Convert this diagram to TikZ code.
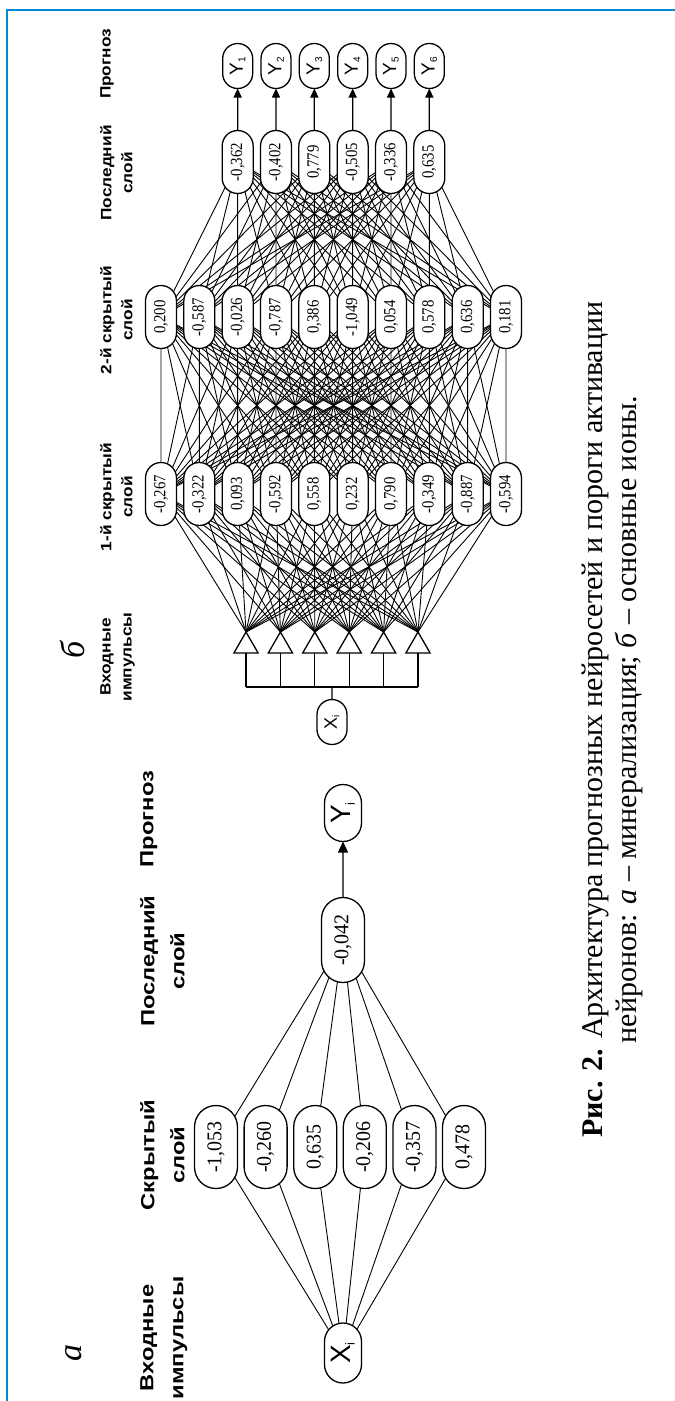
\documentclass[tikz,border=0pt]{standalone}
\usepackage{fontspec}
\setmainfont{Liberation Serif}
\newfontfamily\valA[FakeStretch=0.95]{Liberation Serif}
\newfontfamily\valB[FakeStretch=0.87]{Liberation Serif}
\newfontfamily\lblA[FakeStretch=1.25]{Liberation Sans Bold}
\newfontfamily\lblB[FakeStretch=1.15]{Liberation Sans Bold}
\newfontfamily\xyf{Liberation Sans}
\usetikzlibrary{shapes.misc,shapes.geometric,arrows.meta}
\definecolor{framec}{RGB}{0,140,210}
\pgfdeclarelayer{back}
\pgfdeclarelayer{lines}
\pgfsetlayers{back,lines,main}
\begin{document}
\begin{tikzpicture}[x=1pt,y=-1pt,
  conn/.style={line width=0.9pt},
  boxline/.style={line width=1.3pt},
  vA/.style={draw, boxline, fill=white, rounded rectangle, rotate=90, inner sep=0pt, outer sep=0pt,
     minimum width=83pt, minimum height=43pt, font=\valA\fontsize{21}{21}\selectfont},
  vB/.style={draw, boxline, fill=white, rounded rectangle, rotate=90, inner sep=0pt, outer sep=0pt,
     minimum width=63pt, minimum height=31pt, font=\valB\fontsize{17}{17}\selectfont},
  xyA/.style={draw, boxline, fill=white, rounded rectangle, rotate=90, inner sep=0pt, outer sep=0pt,
     minimum width=60pt, minimum height=37pt, font=\xyf\fontsize{28}{28}\selectfont},
  xyB/.style={draw, boxline, fill=white, rounded rectangle, rotate=90, inner sep=0pt, outer sep=0pt,
     minimum width=45pt, minimum height=30pt, font=\xyf\fontsize{19}{19}\selectfont},
  tri/.style={draw, boxline, fill=white, regular polygon, regular polygon sides=3, minimum size=28pt,
     inner sep=0pt, outer sep=0pt},
  lA/.style={rotate=90, anchor=north, align=center, inner sep=0pt, font=\lblA\fontsize{19}{30}\selectfont},
  lB/.style={rotate=90, anchor=north, align=center, inner sep=0pt, font=\lblB\fontsize{15}{21}\selectfont},
  arrA/.style={line width=1.3pt, -{Triangle[length=11pt,width=10pt]}},
  arrB/.style={line width=1.3pt, -{Triangle[length=9pt,width=8pt]}},
  partlbl/.style={rotate=90, inner sep=0pt, font=\itshape\fontsize{34}{34}\selectfont}
]
\begin{pgfonlayer}{back}
\fill[white] (0,0) rectangle (675,1401);
\end{pgfonlayer}
\useasboundingbox (0,0) rectangle (675,1401);
\draw[framec, line width=1.5pt] (675,10) -- (7,10) -- (7,1401);

% ---------------- part a ----------------
\node[partlbl] (lbla) at (74,1353) {а};
\node[lA] (la1) at (140,1338) {Входные\\импульсы};
\node[lA] (la2) at (140,1155) {Скрытый\\слой};
\node[lA] (la3) at (140,961) {Последний\\слой};
\node[lA] (la4) at (140,819) {Прогноз};

\node[xyA] (xa) at (343,1353) {X\raisebox{-4pt}{\fontsize{13}{13}\selectfont i}};
\foreach \v [count=\i] in {{-1,053},{-0,260},{0,635},{-0,206},{-0,357},{0,478}}
  \node[vA] (a\i) at ({216+49.6*(\i-1)},1147) {\v};
\node[vA, minimum width=85pt] (lasta) at (343,940) {-0,042};
\node[xyA, minimum width=57pt] (ya) at (343,813) {Y\raisebox{-4pt}{\fontsize{13}{13}\selectfont i}};
\begin{pgfonlayer}{lines}
\foreach \i in {1,...,6} {
  \draw[conn] (xa) -- (a\i);
  \draw[conn] (a\i) -- (lasta);
}
\end{pgfonlayer}
\draw[arrA] (lasta) -- (ya);

% ---------------- part b ----------------
\node[partlbl] (lblb) at (72,650) {б};
\node[lB] (lb1) at (100,657) {Входные\\импульсы};
\node[lB] (lb2) at (100,497) {1-й скрытый\\слой};
\node[lB] (lb3) at (100,320) {2-й скрытый\\слой};
\node[lB] (lb4) at (100,173) {Последний\\слой};
\node[lB] (lb5) at (100,64) {Прогноз};

\node[xyB, font=\xyf\fontsize{18}{18}\selectfont] (xb) at (332,722) {X\raisebox{-2.5pt}{\fontsize{10}{10}\selectfont i}};
\foreach \i in {1,...,6}
  \node[tri] (t\i) at ({246+34.4*(\i-1)},646) {};
\coordinate (bus) at (332,687);
\foreach \i in {1,...,6}
  \draw[boxline] (t\i.side 2) -- (t\i.side 2 |- bus);
\draw[boxline] (t1.side 2 |- bus) -- (t6.side 2 |- bus);
\draw[boxline] (bus) -- (xb);

\foreach \v [count=\i] in {{-0,267},{-0,322},{0,093},{-0,592},{0,558},{0,232},{0,790},{-0,349},{-0,887},{-0,594}}
  \node[vB] (p\i) at ({161+38.333*(\i-1)},494) {\v};
\foreach \v [count=\i] in {{0,200},{-0,587},{-0,026},{-0,787},{0,386},{-1,049},{0,054},{0,578},{0,636},{0,181}}
  \node[vB] (q\i) at ({161+38.333*(\i-1)},317) {\v};
\foreach \v [count=\i] in {{-0,362},{-0,402},{0,779},{-0,505},{-0,336},{0,635}}
  \node[vB] (r\i) at ({237.67+38.333*(\i-1)},162) {\v};
\foreach \i in {1,...,6}
  \node[xyB] (y\i) at ({237.67+38.333*(\i-1)},66) {Y\raisebox{-2.5pt}{\fontsize{10}{10}\selectfont\i}};

\begin{pgfonlayer}{lines}
\foreach \i in {1,...,6}
  \foreach \j in {1,...,10}
    \draw[conn] (t\i.corner 1) -- (p\j);
\foreach \i in {1,...,10}
  \foreach \j in {1,...,10}
    \draw[conn] (p\i) -- (q\j);
\foreach \i in {1,...,10}
  \foreach \j in {1,...,6}
    \draw[conn] (q\i) -- (r\j);
\end{pgfonlayer}
\foreach \i in {1,...,6}
  \draw[arrB] (r\i) -- (y\i);

% ---------------- caption ----------------
\node[rotate=90, anchor=north west, align=center, inner sep=0pt, font=\fontsize{30}{34}\selectfont] (cap) at (582,1138)
  {\textbf{Рис. 2.} Архитектура прогнозных нейросетей и пороги активации\\нейронов: \textit{а} – минерализация; \textit{б} – основные ионы.};
\end{tikzpicture}
\end{document}
